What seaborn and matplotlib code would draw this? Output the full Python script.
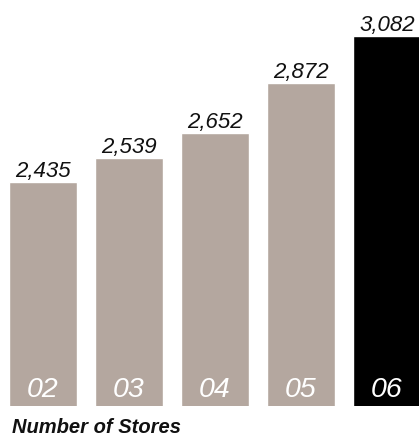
import matplotlib
matplotlib.use("Agg")
import matplotlib.pyplot as plt
import seaborn as sns
import pandas as pd

years = ["02", "03", "04", "05", "06"]
stores = [2435, 2539, 2652, 2872, 3082]
bar_colors = ["#B4A79F", "#B4A79F", "#B4A79F", "#B4A79F", "#000000"]
caption = "Number of Stores"

sns.set_theme(style="white")
plt.rcParams["font.family"] = ["Liberation Sans", "DejaVu Sans"]

df = pd.DataFrame({"year": years, "stores": stores})

fig = plt.figure(figsize=(4.19, 4.38), dpi=100)
ax = fig.add_axes([0, 32 / 438, 1, 406 / 438])
sns.barplot(data=df, x="year", y="stores", hue="year", palette=bar_colors,
            width=0.79, legend=False, ax=ax, saturation=1)

ax.set_xlim(-0.5, 4.372)
ax.set_ylim(1440, 3240)
ax.axis("off")

for i, (y, v) in enumerate(zip(years, stores)):
    ax.annotate(f"{v:,}", (i, v), xytext=(0, 3.5), textcoords="offset points",
                ha="center", va="baseline", fontsize=16, style="italic",
                color="#111111")
    ax.annotate(y, (i, 1440), xytext=(0, 6.5), textcoords="offset points",
                ha="center", va="baseline", fontsize=20.5, style="italic",
                color="white")

fig.text(12 / 419, 5 / 438, caption, ha="left", va="baseline", fontsize=14.5,
         fontweight="bold", style="italic", color="#111111")

fig.savefig("out.png", dpi=100)
